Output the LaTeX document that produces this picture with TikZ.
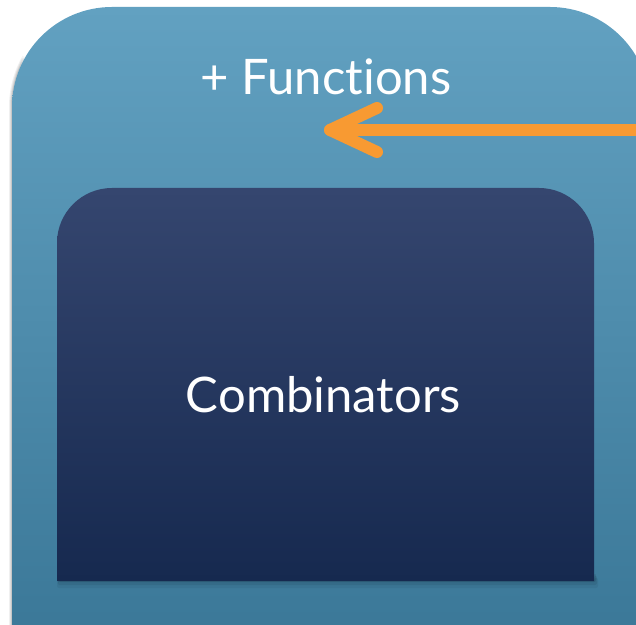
\documentclass[tikz,border=0pt]{standalone}
\usepackage{fontspec}
\setmainfont[Ligatures=NoCommon]{Lato}
\definecolor{outertop}{HTML}{62A1C1}
\definecolor{outerbot}{HTML}{3B7898}
\definecolor{innertop}{HTML}{35466F}
\definecolor{innerbot}{HTML}{16294F}
\definecolor{arroworange}{HTML}{F89A32}
\tikzset{
  lbl/.style={text=white, font=\fontsize{49}{52}\selectfont, anchor=base, inner sep=0pt},
  orangeline/.style={draw=arroworange, line width=12pt, line cap=round, line join=round}
}
\begin{document}
\begin{tikzpicture}[x=1pt,y=1pt]
\useasboundingbox (0,0) rectangle (636,624);
% outer shadow (left edge)
\foreach \d/\o in {3/0.06,2/0.08,1/0.10}{
  \fill[black, opacity=\o] (12-\d,-10) -- (12-\d,517) arc[start angle=180,end angle=150,radius=100+\d] -- (12,517) -- (12,-10) -- cycle;
}
% outer panel
\shade[top color=outertop, bottom color=outerbot]
  (12,-10) -- (12,517) arc[start angle=180,end angle=90,radius=100]
  -- (550,617) arc[start angle=90,end angle=0,radius=100] -- (650,-10) -- cycle;
% inner shadow (soft, below)
\foreach \d/\o in {6/0.05,4/0.07,2/0.10}{
  \fill[black, opacity=\o, rounded corners=2pt] (59-\d/3,43) -- (59-\d/3,45-\d-\d/2) -- (595+\d/2,45-\d-\d/2) -- (595+\d/2,52-\d) -- (594,52-\d) -- (594,43) -- cycle;
}
% inner panel
\shade[top color=innertop, bottom color=innerbot]
  (57,43) -- (57,381) arc[start angle=180,end angle=90,radius=55]
  -- (539,436) arc[start angle=90,end angle=0,radius=55] -- (594,43) -- cycle;
\node[lbl] (functions) at (326,529) {+ Functions};
\node[lbl] (combinators) at (323.5,212) {Combinators};
\coordinate (src) at (640,494);
\coordinate (tip) at (330,494);
\draw[orangeline] (src) -- (tip);
\draw[orangeline] ([shift={(47,22)}]tip) -- (tip) -- ([shift={(47,-22)}]tip);
\end{tikzpicture}
\end{document}
